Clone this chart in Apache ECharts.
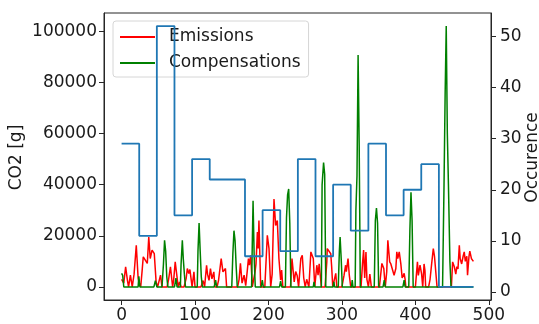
<!DOCTYPE html>
<html>
<head>
<meta charset="utf-8">
<script src="https://cdn.jsdelivr.net/npm/echarts@6/dist/echarts.min.js"></script>
<style>
html,body{margin:0;padding:0;background:#fff;}
#chart{width:539px;height:324px;}
</style>
</head>
<body>
<div id="chart"></div>
<script>
// ---- data ----
const emHours = [0,3,5.5,8,9.5,12,14.5,17,20,22.5,24,26,28,29.5,32,35,37,39,41.5,44.5,47,49,51,53,55,62,64,66.5,69.5,71,73,75,77,79,81,85,88,89.5,91.5,93,94,96,98.5,100,108,111,113,115.7,117,119,121,123,125.6,127,130,132,135.6,138,141.4,143,158,160,161.8,164,166.8,169,171,172.7,174,175.8,178,180,181.7,183,184.9,186,187,189.4,195,198.4,200.7,203,205,207.5,209.7,212,214.2,216.5,217.9,219.5,230,232,235,237,239,241,244,246,248,250,252,255,257.7,259.4,261,263,265.8,267.5,269,270.7,272,277,279.4,280,282.5,284.8,286,287.5,289,291.6,293,300,302.9,305,306,308.3,310,312,326,328,329.5,330,331,332.7,334,336,338,340,351,354.4,355.3,357,359,361,362.5,363.5,365,366.6,368.9,371,373.4,374.7,376,378,380.2,382,384.7,386,387,400,402.8,404,406.3,407.3,408.5,410,411.8,413,414,418,420,422.2,424.4,425,426,428,429.5,449,450.7,451.5,453,455,456.5,458,459.8,461,463,465,466.5,468,470,471,473,474.1,475.6,476.4,477.8,479];
const emValues = [3000,1500,7900,2500,0,4600,0,5000,16300,3500,1500,0,6500,11800,11100,9200,19500,11100,14400,13000,2000,0,0,4600,0,0,3000,7900,0,3000,9800,5000,0,2000,0,0,3500,7200,5200,6800,7200,0,5900,0,0,2500,0,8500,5000,2600,7200,3200,5900,0,0,2600,11100,5900,7200,0,0,3000,9200,1500,4600,500,6000,11100,8500,12400,0,0,5900,9000,21500,15000,26000,0,0,20200,15000,0,5000,34400,24000,26000,11100,2700,6600,0,0,11100,2000,6000,4500,0,11100,12400,3500,0,3000,0,13700,13700,11100,0,8500,4600,9000,8500,0,0,9800,15000,15000,13000,8000,0,2000,5300,0,0,4600,8500,6000,11100,4600,0,0,9000,14400,13700,3500,13700,3000,0,5000,0,0,9200,9200,7200,0,6000,18200,18200,9800,9000,8500,4600,7200,13700,11100,13700,9000,3500,5300,3000,0,0,9800,4500,8500,8500,5000,0,9000,6500,0,0,3000,9200,15000,15000,12000,12400,0,0,9800,10500,7900,5000,8000,7000,16300,11000,9000,12000,13700,10000,12000,4600,12000,14000,14400,11000,10500,10000];

const compHours = [0,1.5,3,22.5,23.5,25,44,46,48,55,57,58.5,60,61.5,63,72,74,75.5,80,81,82.7,84,85.5,87,103,104,105.5,107,108.5,110,126,128,129.5,150,151.5,153,154.5,156,157.5,177,178,179,180.5,182,190,191.6,193,215,216.5,218,223,224.5,226,227.5,229,230.5,261,262,263,272,273,275,276.5,278,288,289,290,295,296.5,297.5,299,300.5,313,314,315,318,319,320.5,322,323.5,325,344,345.5,347,348.5,350,356,357.6,359,383,384.7,386,391,392.5,394,395.5,397,437,439,440.5,442,443.5,445,447,448.5,479];
const compValues = [5300,4500,0,0,4200,0,0,2500,0,0,9000,18200,14000,4000,0,0,3500,0,0,9000,18200,11000,5000,0,0,14000,25000,14000,4000,0,0,2700,0,0,13000,22000,18000,8000,0,0,18000,33700,12000,0,0,2700,0,0,2300,0,0,27000,36000,38300,25000,0,0,2000,0,0,40000,48600,44000,0,0,2000,0,0,14000,19500,11000,0,0,2700,0,0,30000,43500,90700,55000,0,0,26000,30800,25000,0,0,2700,0,0,2700,0,0,22000,37000,26000,0,0,40000,75000,102000,60000,40000,10000,0,0];

const occHours = [0,24,48,72,96,120,144,168,192,216,240,264,288,312,336,360,384,408,432,456,479];
const occValues = [29,11,52,15,26,22,22,7,16,8,26,7,21,12,29,15,20,25,1,1,1];

const xTicks = [0,100,200,300,400,500];
const leftTicks = [0,20000,40000,60000,80000,100000];
const rightTicks = [0,10,20,30,40,50];
const leftTitle = 'CO2 [g]';
const rightTitle = 'Occurence';

const zip = (a,b) => a.map((v,i)=>[v,b[i]]);
const FONT = 'DejaVu Sans';
const FS = 17;
const TXT = '#1a1a1a';

const chart = echarts.init(document.getElementById('chart'), null, {renderer:'canvas'});
chart.setOption({
  animation:false,
  backgroundColor:'#fff',
  textStyle:{fontFamily:FONT},
  grid:{left:104, right:48, top:13, bottom:22, show:true, borderColor:'#262626', borderWidth:1, backgroundColor:'transparent', z:0},
  graphic:[
    {type:'text', x:17, y:157.5, rotation:Math.PI/2, z:10,
     style:{text:leftTitle, align:'center', verticalAlign:'middle', fontFamily:FONT, fontSize:FS, fill:TXT}},
    {type:'text', x:533, y:157.5, rotation:Math.PI/2, z:10,
     style:{text:rightTitle, align:'center', verticalAlign:'middle', fontFamily:FONT, fontSize:FS, fill:TXT}}
  ],
  legend:{
    orient:'vertical', left:113, top:21, z:1,
    data:['Emissions','Compensations'],
    itemWidth:35, itemHeight:2, itemGap:6,
    padding:[6,8,4,7],
    icon:'rect',
    backgroundColor:'rgba(255,255,255,0.8)',
    borderColor:'#d6d6d6', borderWidth:1, borderRadius:3,
    textStyle:{fontFamily:FONT, fontSize:FS, color:TXT, lineHeight:20, padding:[0,0,0,9]}
  },
  xAxis:{
    type:'value', min:-23.95, max:502.95,
    axisLine:{show:true, onZero:false, lineStyle:{color:'#262626'}},
    axisTick:{show:true, customValues:xTicks, length:5, lineStyle:{color:'#262626'}},
    axisLabel:{customValues:xTicks, margin:7, fontFamily:FONT, fontSize:FS, color:TXT},
    splitLine:{show:false}
  },
  yAxis:[{
    type:'value', min:-5100, max:107100, position:'left',
    axisLine:{show:true, onZero:false, lineStyle:{color:'#262626'}},
    axisTick:{show:true, customValues:leftTicks, length:5, lineStyle:{color:'#262626'}},
    axisLabel:{customValues:leftTicks, margin:7, fontFamily:FONT, fontSize:FS, color:TXT, formatter:v=>String(v)},
    splitLine:{show:false}
  },{
    type:'value', min:-1.55, max:54.55, position:'right',
    axisLine:{show:true, onZero:false, lineStyle:{color:'#262626'}},
    axisTick:{show:true, customValues:rightTicks, length:5, lineStyle:{color:'#262626'}},
    axisLabel:{customValues:rightTicks, margin:9, fontFamily:FONT, fontSize:FS, color:TXT},
    splitLine:{show:false}
  }],
  series:[{
    name:'Emissions', type:'line', yAxisIndex:0, showSymbol:false, symbol:'none', z:2,
    data:zip(emHours, emValues), color:'#ff0000',
    lineStyle:{color:'#ff0000', width:1.5}
  },{
    name:'Compensations', type:'line', yAxisIndex:0, showSymbol:false, symbol:'none', z:2,
    data:zip(compHours, compValues), color:'#008000',
    lineStyle:{color:'#008000', width:1.5}
  },{
    name:'Occurence', type:'line', yAxisIndex:1, showSymbol:false, symbol:'none', z:4,
    step:'end', data:zip(occHours, occValues), color:'#1f77b4',
    lineStyle:{color:'#1f77b4', width:1.8}
  }]
});
</script>
</body>
</html>
